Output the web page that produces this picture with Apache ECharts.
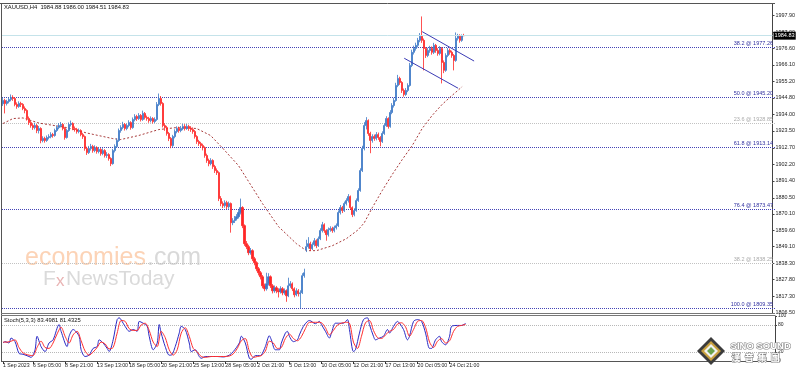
<!DOCTYPE html>
<html><head><meta charset="utf-8">
<script src="https://cdn.jsdelivr.net/npm/echarts@6/dist/echarts.min.js"></script>
<style>html,body{margin:0;padding:0;background:#fff;}#c{width:798px;height:372px;}</style>
</head><body><div id="c"></div>
<script>
// [open, close, low, high]
const candlesA = [
[1941.0,1943.1,1939.6,1945.0],[1943.1,1941.2,1934.8,1944.2],[1941.2,1942.5,1939.9,1943.6],[1942.5,1943.8,1941.3,1945.2],
[1943.8,1945.1,1942.6,1947.0],[1945.1,1944.4,1942.9,1946.5],[1944.4,1940.6,1939.4,1945.3],[1940.6,1939.3,1937.8,1941.9],
[1939.3,1941.2,1938.4,1942.6],[1941.2,1940.6,1938.9,1942.3],[1940.6,1938.0,1936.9,1941.4],[1938.0,1936.7,1934.9,1939.3],
[1936.7,1931.5,1930.2,1937.5],[1931.5,1928.9,1927.4,1932.8],[1928.9,1927.0,1925.6,1930.1],[1927.0,1925.7,1924.2,1928.4],
[1925.7,1927.0,1924.5,1928.8],[1927.0,1923.8,1922.1,1928.0],[1923.8,1925.1,1921.9,1926.7],[1925.1,1917.4,1915.6,1925.9],
[1917.4,1918.7,1916.2,1920.1],[1918.7,1917.4,1916.0,1919.8],[1917.4,1919.3,1916.5,1920.6],[1919.3,1919.9,1918.1,1921.4],
[1919.9,1921.2,1918.8,1922.7],[1921.2,1920.6,1919.2,1922.3],[1920.6,1923.8,1919.8,1925.0],[1923.8,1925.7,1922.9,1927.1],
[1925.7,1927.0,1924.6,1928.6],[1927.0,1927.7,1925.8,1929.3]];
const candlesB = [
[1927.7,1925.1,1923.9,1928.5],[1925.1,1919.3,1917.9,1926.0],[1919.3,1923.8,1918.6,1924.9],[1923.8,1927.7,1922.9,1929.0],
[1927.7,1928.3,1926.4,1930.2],[1928.3,1925.1,1924.0,1929.1],[1925.1,1924.4,1923.1,1926.4],[1924.4,1923.2,1921.8,1925.5],
[1923.2,1923.8,1922.0,1925.1],[1923.8,1921.2,1920.1,1924.6],[1921.2,1919.9,1918.4,1922.3],[1919.9,1912.2,1910.8,1920.6],
[1912.2,1909.6,1908.1,1913.4],[1909.6,1912.2,1908.7,1913.9],[1912.2,1913.5,1910.9,1915.2],[1913.5,1910.9,1909.5,1914.6],
[1910.9,1912.8,1909.8,1914.3],[1912.8,1910.3,1908.9,1913.7],[1910.3,1911.6,1909.1,1913.2],[1911.6,1909.0,1907.6,1912.5],
[1909.0,1910.9,1907.9,1912.4],[1910.9,1907.7,1906.4,1911.8],[1907.7,1908.3,1906.2,1909.9],[1908.3,1905.8,1904.4,1909.2],
[1905.8,1902.5,1900.9,1906.6],[1902.5,1910.9,1901.8,1912.0],[1910.9,1913.5,1909.7,1914.9],[1913.5,1917.4,1912.6,1918.8],
[1917.4,1923.8,1916.5,1925.1],[1923.8,1925.7,1922.4,1927.2]];
const candlesC = [
[1925.7,1927.7,1924.6,1929.4],[1927.7,1925.1,1923.8,1928.6],[1925.1,1927.0,1924.0,1928.3],[1927.0,1928.9,1925.9,1930.4],
[1928.9,1925.7,1924.3,1929.8],[1925.7,1930.9,1924.9,1932.2],[1930.9,1932.8,1929.7,1934.3],[1932.8,1931.5,1930.0,1933.9],
[1931.5,1933.5,1930.6,1935.0],[1933.5,1930.9,1929.6,1934.4],[1930.9,1934.8,1930.0,1936.6],[1934.8,1932.2,1930.9,1935.7],
[1932.2,1931.5,1930.1,1933.4],[1931.5,1930.2,1928.8,1932.6],[1930.2,1931.5,1929.0,1932.9],[1931.5,1929.6,1928.3,1932.4],
[1929.6,1930.9,1928.5,1932.3],[1930.9,1940.6,1930.0,1942.1],[1940.6,1944.4,1939.5,1947.6],[1944.4,1941.2,1939.8,1946.0],
[1941.2,1927.0,1925.8,1942.0],[1927.0,1925.7,1923.6,1928.5],[1925.7,1921.9,1920.5,1926.8],[1921.9,1918.7,1917.0,1922.9],
[1918.7,1914.1,1912.4,1919.6],[1914.1,1919.9,1913.2,1921.0],[1919.9,1923.2,1918.8,1924.6],[1923.2,1925.1,1922.0,1926.5],
[1925.1,1923.8,1922.4,1926.3],[1923.8,1925.1,1922.7,1926.7]];
const candlesD = [
[1925.1,1926.4,1924.0,1928.1],[1926.4,1925.1,1923.8,1927.9],[1925.1,1926.4,1924.2,1928.0],[1926.4,1925.1,1923.6,1927.5],
[1925.1,1924.4,1922.9,1926.6],[1924.4,1923.2,1921.7,1925.8],[1923.2,1919.9,1918.6,1924.1],[1919.9,1916.7,1915.2,1920.8],
[1916.7,1915.4,1913.9,1917.8],[1915.4,1914.1,1912.7,1916.5],[1914.1,1912.8,1911.0,1915.3],[1912.8,1907.7,1906.3,1913.6],
[1907.7,1904.5,1903.0,1908.9],[1904.5,1902.5,1900.8,1905.7],[1902.5,1904.5,1901.4,1906.0],[1904.5,1900.6,1899.1,1905.3],
[1900.6,1898.0,1896.5,1901.7],[1898.0,1896.7,1895.2,1899.4],[1896.7,1880.0,1878.4,1897.5],[1880.0,1876.8,1875.1,1881.6],
[1876.8,1875.5,1873.9,1878.2],[1875.5,1877.4,1874.2,1878.9],[1877.4,1874.8,1873.3,1878.6],[1874.8,1876.8,1873.5,1878.1],
[1876.8,1864.5,1858.1,1877.5],[1864.5,1865.8,1862.9,1867.4],[1865.8,1867.1,1864.3,1868.8],[1867.1,1868.4,1865.9,1870.0],
[1868.4,1871.0,1867.2,1872.6],[1871.0,1874.2,1869.8,1880.0]];
const candlesE = [
[1874.2,1862.6,1861.0,1875.1],[1862.6,1851.0,1849.6,1863.4],[1851.0,1849.1,1847.5,1852.7],[1849.1,1845.2,1843.6,1850.3],
[1845.2,1846.5,1843.9,1848.2],[1846.5,1841.3,1839.8,1847.4],[1841.3,1838.8,1837.1,1842.5],[1838.8,1834.9,1833.3,1839.7],
[1834.9,1832.3,1830.6,1836.0],[1832.3,1829.7,1828.0,1833.4],[1829.7,1823.9,1822.3,1830.8],[1823.9,1822.0,1820.4,1825.3],
[1822.0,1825.2,1820.8,1832.3],[1825.2,1829.7,1824.1,1832.0],[1829.7,1823.9,1822.5,1830.6],[1823.9,1820.7,1819.0,1825.0],
[1820.7,1822.6,1819.4,1824.1],[1822.6,1820.7,1819.1,1823.8],[1820.7,1820.1,1816.4,1822.3],[1820.1,1822.0,1818.9,1823.6],
[1822.0,1819.4,1817.8,1823.1],[1819.4,1820.7,1818.1,1822.2],[1820.7,1817.5,1813.6,1821.6],[1817.5,1823.9,1816.6,1829.1],
[1823.9,1825.2,1822.6,1826.9],[1825.2,1822.0,1820.5,1826.1],[1822.0,1818.1,1816.5,1822.9],[1818.1,1820.7,1817.2,1822.3],
[1820.7,1818.8,1817.0,1821.8],[1818.8,1819.4,1809.4,1821.0],[1819.4,1830.4,1818.6,1832.0],[1830.4,1832.3,1829.1,1834.9]];
const candlesF = [
[1847.0,1849.1,1845.6,1853.5],[1849.1,1851.0,1847.8,1855.2],[1851.0,1847.8,1846.4,1852.3],[1847.8,1850.4,1846.9,1851.8],
[1850.4,1852.9,1849.2,1854.6],[1852.9,1849.7,1848.1,1853.8],[1849.7,1854.2,1848.9,1855.6],[1854.2,1859.4,1853.3,1860.9],
[1859.4,1863.2,1858.2,1865.0],[1863.2,1859.4,1858.0,1864.1],[1859.4,1856.8,1852.9,1860.3],[1856.8,1860.0,1855.6,1861.4],
[1860.0,1860.7,1858.7,1862.2],[1860.7,1859.4,1858.0,1861.9],[1859.4,1861.3,1858.3,1862.6],[1861.3,1862.6,1860.1,1864.0],
[1862.6,1871.0,1861.7,1872.4],[1871.0,1874.2,1869.8,1875.9],[1874.2,1872.3,1870.7,1875.3],[1872.3,1876.8,1871.4,1878.1],
[1876.8,1878.7,1875.6,1880.2],[1878.7,1881.3,1877.5,1882.9],[1881.3,1874.2,1872.9,1882.0],[1874.2,1869.7,1868.1,1875.0],
[1869.7,1872.3,1868.6,1873.8],[1872.3,1878.7,1871.5,1880.1],[1878.7,1885.2,1877.9,1886.6],[1885.2,1898.0,1884.4,1899.5],
[1898.0,1912.2,1897.1,1914.0],[1912.2,1927.0,1911.0,1929.2]];
const candlesG = [
[1927.0,1930.2,1924.5,1932.4],[1930.2,1921.9,1920.4,1931.0],[1921.9,1917.4,1909.2,1923.0],[1917.4,1919.9,1916.0,1921.4],
[1919.9,1918.7,1917.2,1921.2],[1918.7,1921.2,1917.5,1922.8],[1921.2,1919.3,1917.8,1922.5],[1919.3,1916.7,1913.6,1920.2],
[1916.7,1921.9,1915.8,1923.3],[1921.9,1927.0,1921.0,1928.4],[1927.0,1931.5,1926.1,1933.0],[1931.5,1926.4,1925.0,1932.3],
[1926.4,1935.4,1925.6,1936.9],[1935.4,1939.9,1934.3,1941.4],[1939.9,1943.1,1938.6,1944.8],[1943.1,1952.8,1942.3,1954.5],
[1952.8,1957.3,1951.7,1959.6],[1957.3,1954.7,1953.2,1958.4],[1954.7,1949.6,1948.0,1955.6],[1949.6,1947.0,1945.6,1950.8],
[1947.0,1949.6,1946.1,1951.1],[1949.6,1952.8,1948.5,1954.2],[1952.8,1965.7,1952.0,1967.3],[1965.7,1974.1,1964.6,1975.8],
[1974.1,1976.6,1972.7,1978.4],[1976.6,1978.6,1975.2,1980.3],[1978.6,1981.8,1977.3,1983.4],[1981.8,1984.4,1980.6,1986.5]];
const candlesH = [
[1984.4,1981.8,1980.2,1997.2],[1981.8,1976.6,1962.5,1983.0],[1976.6,1972.1,1970.5,1977.5],[1972.1,1975.3,1971.0,1977.0],
[1975.3,1976.6,1973.8,1978.3],[1976.6,1974.1,1972.6,1977.9],[1974.1,1978.6,1973.0,1980.2],[1978.6,1975.3,1973.8,1979.5],
[1975.3,1973.4,1971.9,1976.8],[1973.4,1976.6,1972.2,1978.1],[1976.6,1967.6,1954.1,1977.5],[1967.6,1962.5,1960.7,1968.9],
[1962.5,1972.1,1961.6,1973.5],[1972.1,1975.3,1971.0,1976.9],[1975.3,1974.1,1972.6,1976.6],[1974.1,1972.1,1970.6,1975.2],
[1972.1,1968.9,1962.5,1973.0],[1968.9,1983.1,1968.0,1986.9],[1983.1,1984.4,1981.7,1986.0],[1984.4,1981.8,1980.3,1985.7],
[1981.8,1984.9,1980.9,1985.6],[1984.88,1984.83,1984.51,1986.0]];

// moving average: [barIndex, value]
const maPoints = [[0,1928.3],[5,1931.5],[10,1931.9],[18,1928.6],[32,1925.7],[42,1922.2],[55,1918.6],[59,1918.0],
[68,1920.6],[78,1924.4],[87,1925.7],[97,1925.1],[104,1920.6],[110,1912.5],[118,1901.2],[130,1876.8],[138,1862.0],
[147,1851.0],[152,1846.5],[157,1846.5],[165,1849.7],[172,1854.2],[178,1860.0],[181,1864.5],[185,1874.2],[190,1885.2],
[195,1895.5],[200,1905.1],[205,1914.1],[210,1925.1],[215,1933.5],[220,1940.6],[225,1946.4],[230,1952.0]];

// stochastic main (%K) and signal (%D): [barIndex, value]
const stochK = [[0,40],[1,43],[3,40],[4,51],[6,43],[8,17],[10,15],[13,10],[14,8],[16,25],[17,55],[19,32],[21,21],[23,40],
[25,47],[28,81],[29,66],[32,32],[33,55],[35,70],[38,55],[39,25],[41,10],[43,13],[45,28],[47,32],[48,47],[50,40],[52,28],
[53,21],[55,47],[57,92],[58,96],[60,84],[62,70],[63,66],[65,70],[67,66],[68,88],[70,84],[72,77],[73,55],[75,25],[77,40],
[78,81],[79,62],[81,32],[83,13],[84,13],[86,32],[88,62],[89,77],[91,70],[93,40],[94,21],[96,25],[98,10],[99,6],[101,10],
[103,10],[107,10],[110,9],[113,13],[115,21],[118,40],[119,55],[121,40],[123,6],[124,4],[126,12],[128,12],[129,13],[131,32],
[133,56],[134,47],[136,25],[138,25],[139,40],[141,62],[142,66],[143,55],[145,43],[147,47],[148,58],[150,77],[152,88],
[153,90],[156,83],[158,88],[159,81],[161,66],[163,51],[164,62],[166,84],[168,84],[170,84],[172,92],[173,70],[175,21],
[176,25],[178,62],[180,92],[182,96],[183,81],[185,55],[186,47],[188,51],[190,55],[192,70],[193,62],[195,77],[197,88],
[198,84],[200,70],[202,47],[203,55],[205,88],[207,92],[209,88],[211,62],[213,28],[214,28],[216,47],[218,55],[219,43],
[221,36],[223,55],[224,77],[227,79],[229,79],[231,83.5]];
const stochD = [[0,42],[2,42],[4,44],[6,47],[8,30],[10,18],[13,13],[15,12],[17,30],[19,44],[21,30],[23,28],[25,40],[27,60],
[29,75],[31,55],[33,40],[35,58],[37,66],[39,45],[41,22],[43,13],[45,20],[47,30],[49,42],[51,38],[53,27],[55,30],[57,62],
[59,90],[61,88],[63,72],[65,68],[67,68],[69,80],[71,84],[73,68],[75,42],[77,32],[79,66],[81,52],[83,25],[85,13],[87,25],
[89,62],[91,74],[93,55],[95,28],[97,20],[99,10],[101,8],[104,10],[107,10],[110,10],[113,11],[115,16],[117,28],[119,45],
[121,50],[123,22],[125,8],[127,10],[129,12],[131,22],[133,44],[135,40],[137,28],[139,30],[141,50],[143,60],[145,50],
[147,45],[149,54],[151,72],[153,86],[155,86],[157,86],[159,85],[161,74],[163,58],[165,68],[167,80],[169,84],[171,86],
[173,84],[175,42],[177,28],[179,55],[181,85],[183,90],[185,68],[187,52],[189,50],[191,58],[193,66],[195,70],[197,82],
[199,85],[201,76],[203,55],[205,70],[207,88],[209,90],[211,75],[213,42],[215,30],[217,44],[219,50],[221,40],[223,45],
[225,66],[227,77],[229,79],[231,81.4]];

const priceTicks = [1997.90,1987.00,1976.60,1966.10,1955.20,1944.80,1934.00,1923.50,1912.70,1902.20,1891.40,1880.50,
1870.10,1859.60,1849.10,1838.30,1827.80,1817.30,1806.50];
const stochTicks = [0,20,80,100];
const stochLevels = [80,20];
const timeLabels = ['1 Sep 2023','6 Sep 05:00','8 Sep 21:00','13 Sep 13:00','18 Sep 05:00','20 Sep 21:00','25 Sep 13:00',
'28 Sep 05:00','2 Oct 21:00','5 Oct 13:00','10 Oct 05:00','12 Oct 21:00','17 Oct 13:00','20 Oct 05:00','24 Oct 21:00'];
const timeLabelBars = [0,15,31,47,63,79,95,111,127,143,159,175,191,207,223];

const fibMain = [['38.2 @ 1977.26',1977.26],['50.0 @ 1945.20',1945.20],['61.8 @ 1913.14',1913.14],
['76.4 @ 1873.47',1873.47],['100.0 @ 1809.35',1809.35]];
const fibGrey = [['23.6 @ 1928.85',1928.85],['38.2 @ 1838.25',1838.25]];
const channelUpper = [[210,1987.4],[236,1968.5]];
const channelLower = [[201,1970.3],[228,1951.0]];
const lastPrice = 1984.83;
const headerText = 'XAUUSD,H4  1984.88 1986.00 1984.51 1984.83';
const stochText = 'Stoch(5,3,3) 83.4981 81.4325';

const candles = [].concat(candlesA,candlesB,candlesC,candlesD,candlesE,candlesF,candlesG,candlesH);
const NCAT = 386;
const cats = Array.from({length:NCAT},(_,i)=>'b'+i);
const labelMap = {};
timeLabelBars.forEach((b,j)=>{labelMap[b]=timeLabels[j];});

const FONT = 'Liberation Sans';
const blueFib = '#4444b6', greyFib = '#c2c2c2';
const UP = '#3c78c6', DOWN = '#ff2626';

const chart = echarts.init(document.getElementById('c'));
chart.setOption({
  animation:false,
  backgroundColor:'#ffffff',
  grid:[{left:2,top:4,width:773,height:309},{left:2,top:316,width:773,height:45}],
  xAxis:[
    {type:'category',gridIndex:0,data:cats,boundaryGap:true,axisLine:{show:false},axisTick:{show:false},axisLabel:{show:false},splitLine:{show:false}},
    {type:'category',gridIndex:1,data:cats,boundaryGap:true,axisLine:{show:false},splitLine:{show:false},
     axisTick:{show:true,alignWithLabel:true,interval:(i)=>labelMap[i]!==undefined,length:3,lineStyle:{color:'#333'}},
     axisLabel:{show:true,showMinLabel:true,interval:(i)=>labelMap[i]!==undefined,formatter:(v,i)=>labelMap[i]||'',align:'left',
       fontSize:5.2,fontFamily:FONT,color:'#222',margin:2}}
  ],
  yAxis:[
    {type:'value',gridIndex:0,position:'right',min:1806.4,max:2005.2,splitLine:{show:false},
     axisLine:{show:true,lineStyle:{color:'#444'}},
     axisTick:{show:true,customValues:priceTicks,length:2,lineStyle:{color:'#444'}},
     axisLabel:{show:true,customValues:priceTicks,formatter:(v)=>v.toFixed(2),fontSize:5.4,fontFamily:FONT,color:'#222',margin:3}},
    {type:'value',gridIndex:1,position:'right',min:0,max:100,splitLine:{show:false},
     axisLine:{show:true,lineStyle:{color:'#444'}},
     axisTick:{show:true,customValues:stochTicks,length:2,lineStyle:{color:'#444'}},
     axisLabel:{show:true,customValues:stochTicks,fontSize:5,fontFamily:FONT,color:'#222',margin:3}}
  ],
  series:[
    {type:'candlestick',xAxisIndex:0,yAxisIndex:0,data:candles,barWidth:1.6,large:false,z:4,
     itemStyle:{color:UP,color0:DOWN,borderColor:UP,borderColor0:DOWN,borderWidth:0.8},
     markLine:{silent:true,symbol:['none','none'],animation:false,data:[
       {yAxis:lastPrice,lineStyle:{color:'#c5e3ea',type:'solid',width:1},
        label:{show:true,formatter:lastPrice.toFixed(2),position:'end',distance:1,backgroundColor:'#000',color:'#fff',
        fontSize:5.6,fontFamily:FONT,padding:[1,1]}},
       [{coord:channelUpper[0],lineStyle:{color:'#3b3bb5',type:'solid',width:1},label:{show:false}},{coord:channelUpper[1]}],
       [{coord:channelLower[0],lineStyle:{color:'#3b3bb5',type:'solid',width:1},label:{show:false}},{coord:channelLower[1]}]
     ]}},
    {type:'line',xAxisIndex:0,yAxisIndex:0,data:maPoints,showSymbol:false,symbol:'none',
     lineStyle:{color:'#a83b3b',width:1,type:[2,2]},z:3},
    {type:'line',xAxisIndex:1,yAxisIndex:1,data:stochK,showSymbol:false,symbol:'none',smooth:0.3,
     lineStyle:{color:'#2a2ac4',width:1}},
    {type:'line',xAxisIndex:1,yAxisIndex:1,data:stochD,showSymbol:false,symbol:'none',smooth:0.3,
     lineStyle:{color:'#ff3030',width:1}}
  ]
});

// crisp horizontal level lines positioned through the chart's own scales
const gfx = [];
function hline(y, color, text, textColor){
  const py = Math.round(y) + 0.5;
  gfx.push({type:'line',z:1,silent:true,shape:{x1:2,y1:py,x2:775,y2:py},style:{stroke:color,lineWidth:1,lineDash:[1,1]}});
  if (text) gfx.push({type:'text',z:60,silent:true,x:773,y:py-1,style:{text:text,fill:textColor,align:'right',verticalAlign:'bottom',
    font:'5.5px "Liberation Sans"'}});
}
fibMain.forEach(f=>hline(chart.convertToPixel({yAxisIndex:0},f[1]),blueFib,f[0],'#3030a0'));
fibGrey.forEach(f=>hline(chart.convertToPixel({yAxisIndex:0},f[1]),greyFib,f[0],'#aaaaaa'));
stochLevels.forEach(v=>hline(chart.convertToPixel({yAxisIndex:1},v),'#b8b8b8',null,null));

chart.setOption({graphic:gfx.concat([
    {type:'text',left:25,top:246,z:0,style:{text:'economies',fill:'#fcd3b6',font:'25px "Liberation Sans"'}},
    {type:'text',left:147,top:246,z:0,style:{text:'.com',fill:'#d9d9d9',font:'25px "Liberation Sans"'}},
    {type:'text',left:43,top:269,z:0,style:{text:'F',fill:'#dadada',font:'21px "Liberation Sans"'}},
    {type:'text',left:56,top:273,z:0,style:{text:'x',fill:'#e9b4b4',font:'17px "Liberation Sans"'}},
    {type:'text',left:66,top:269,z:0,style:{text:'NewsToday',fill:'#dadada',font:'21px "Liberation Sans"'}},
    {type:'line',z:50,shape:{x1:0,y1:3.5,x2:775,y2:3.5},style:{stroke:'#555',lineWidth:1}},
    {type:'line',z:50,shape:{x1:1.5,y1:3,x2:1.5,y2:362},style:{stroke:'#555',lineWidth:1}},
    {type:'line',z:50,shape:{x1:1,y1:313.5,x2:775,y2:313.5},style:{stroke:'#777',lineWidth:1}},
    {type:'line',z:50,shape:{x1:1,y1:315.5,x2:775,y2:315.5},style:{stroke:'#777',lineWidth:1}},
    {type:'line',z:50,shape:{x1:1,y1:361.5,x2:775,y2:361.5},style:{stroke:'#555',lineWidth:1}},
    {type:'text',left:4,top:4,z:60,style:{text:headerText,fill:'#111',font:'5.8px "Liberation Sans"'}},
    {type:'text',left:4,top:317,z:60,style:{text:stochText,fill:'#111',font:'5.8px "Liberation Sans"'}},
    {type:'group',z:100,children:[
      {type:'polygon',z:100,shape:{points:[[711,337],[725,351],[711,365],[697,351]]},style:{fill:'#3c3c3c'}},
      {type:'polygon',z:101,shape:{points:[[711,341],[721,351],[711,361],[701,351]]},style:{fill:'#c9a13f'}},
      {type:'polygon',z:102,shape:{points:[[711,344],[718,351],[711,358],[704,351]]},style:{fill:'#f2f2f2'}},
      {type:'polygon',z:103,shape:{points:[[711,347],[715,351],[711,355],[707,351]]},style:{fill:'#6aa34a'}},
      {type:'text',z:104,left:730,top:341,style:{text:'SINO SOUND',fill:'#ffffff',stroke:'#8a8a8a',lineWidth:1.2,
        font:'bold 9.5px "Liberation Sans"'}},
      {type:'text',z:104,left:731,top:352,style:{text:'漢  音  集  團',fill:'#ffffff',stroke:'#8a8a8a',lineWidth:1.2,
        font:'bold 9px "Noto Sans CJK TC"'}}
    ]}
  ])});
</script>
</body></html>
